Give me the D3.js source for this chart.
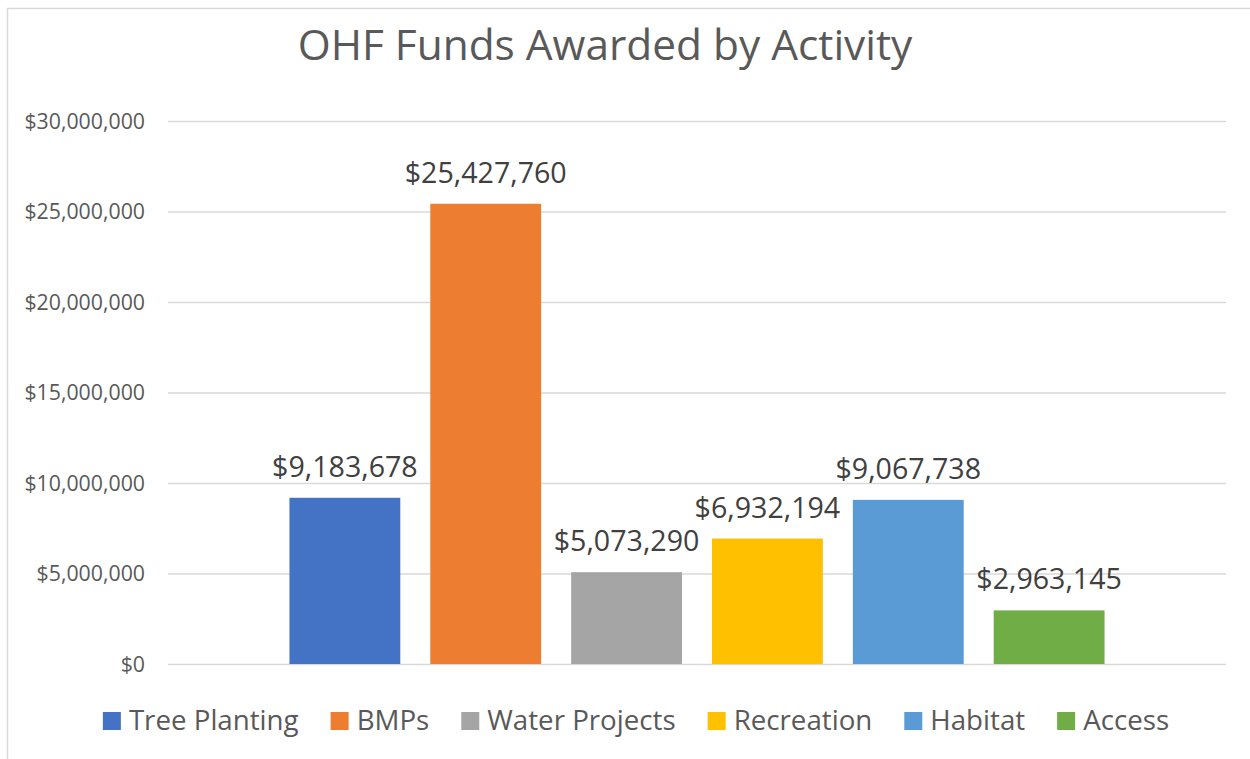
<!DOCTYPE html>
<html><head><meta charset="utf-8">
<script src="https://cdn.jsdelivr.net/npm/d3@7"></script>
<style>
html,body{margin:0;padding:0;background:#fff;}
svg{display:block;font-family:"Open Sans",sans-serif;}
svg text{font-family:"Open Sans",sans-serif;}
</style></head>
<body><svg id="chart" width="1250" height="759"></svg>
<script>
const title = "OHF Funds Awarded by Activity";
const categories = ["Total"];
const seriesNames = ["Tree Planting","BMPs","Water Projects","Recreation","Habitat","Access"];
const seriesValues = [9183678, 25427760, 5073290, 6932194, 9067738, 2963145];
const seriesColors = ["#4472C4","#ED7D31","#A5A5A5","#FFC000","#5B9BD5","#70AD47"];
const yTicks = [0,5000000,10000000,15000000,20000000,25000000,30000000];

const svg = d3.select("#chart");
const plot = {left:168, right:1226, top:121, bottom:664};

svg.append("rect").attr("x",7.5).attr("y",8.5).attr("width",1300).attr("height",800)
  .attr("fill","none").attr("stroke","#d9d9d9").attr("stroke-width",1.5);

svg.append("text").attr("x",605).attr("y",60).attr("text-anchor","middle")
  .attr("font-size",42.4).attr("fill","#595959").text(title);

const y = d3.scaleLinear().domain([0,30000000]).range([plot.bottom, plot.top]);
const x0 = d3.scaleBand().domain(categories).range([plot.left, plot.right]).paddingInner(0).paddingOuter(0.149);
const x1 = d3.scaleBand().domain(seriesNames).range([0, x0.bandwidth()]).paddingInner(0.213).paddingOuter(0);

const fmt = v => "$" + d3.format(",")(v);

const yAxis = d3.axisLeft(y).tickValues(yTicks).tickFormat(fmt).tickSize(-(plot.right-plot.left)).tickPadding(23);
const gy = svg.append("g").attr("transform",`translate(${plot.left},0)`).call(yAxis)
  .attr("font-family",null).attr("font-size",null);
gy.select(".domain").remove();
gy.selectAll(".tick line").attr("stroke","#d9d9d9").attr("stroke-width",1.3);
gy.selectAll(".tick text").attr("fill","#595959").attr("font-size",21.3).attr("dy","0.35em");

const g = svg.append("g").attr("transform",`translate(${x0("Total")},0)`);
const data = seriesNames.map((n,i)=>({name:n, value:seriesValues[i], color:seriesColors[i]}));
g.selectAll("rect.bar").data(data).join("rect").attr("class","bar")
  .attr("x",d=>x1(d.name)).attr("width",x1.bandwidth())
  .attr("y",d=>y(d.value)).attr("height",d=>y(0)-y(d.value))
  .attr("fill",d=>d.color);
g.selectAll("text.lbl").data(data).join("text").attr("class","lbl")
  .attr("x",d=>x1(d.name)+x1.bandwidth()/2).attr("y",d=>y(d.value)-21)
  .attr("text-anchor","middle").attr("font-size",28.6).attr("fill","#404040")
  .text(d=>fmt(d.value));

const leg = svg.append("g");
const items = leg.selectAll("g").data(data).join("g");
items.append("rect").attr("width",18).attr("height",18).attr("y",712).attr("fill",d=>d.color);
items.append("text").attr("x",26).attr("y",730).attr("font-size",27.7).attr("fill","#595959").text(d=>d.name);
const widths = [];
items.each(function(){ widths.push(26 + this.querySelector("text").getComputedTextLength()); });
const gap = 32;
const total = d3.sum(widths) + gap*(widths.length-1);
let start = 636 - total/2;
items.each(function(d,i){
  d3.select(this).attr("transform",`translate(${start},0)`);
  start += widths[i] + gap;
});
</script></body></html>
